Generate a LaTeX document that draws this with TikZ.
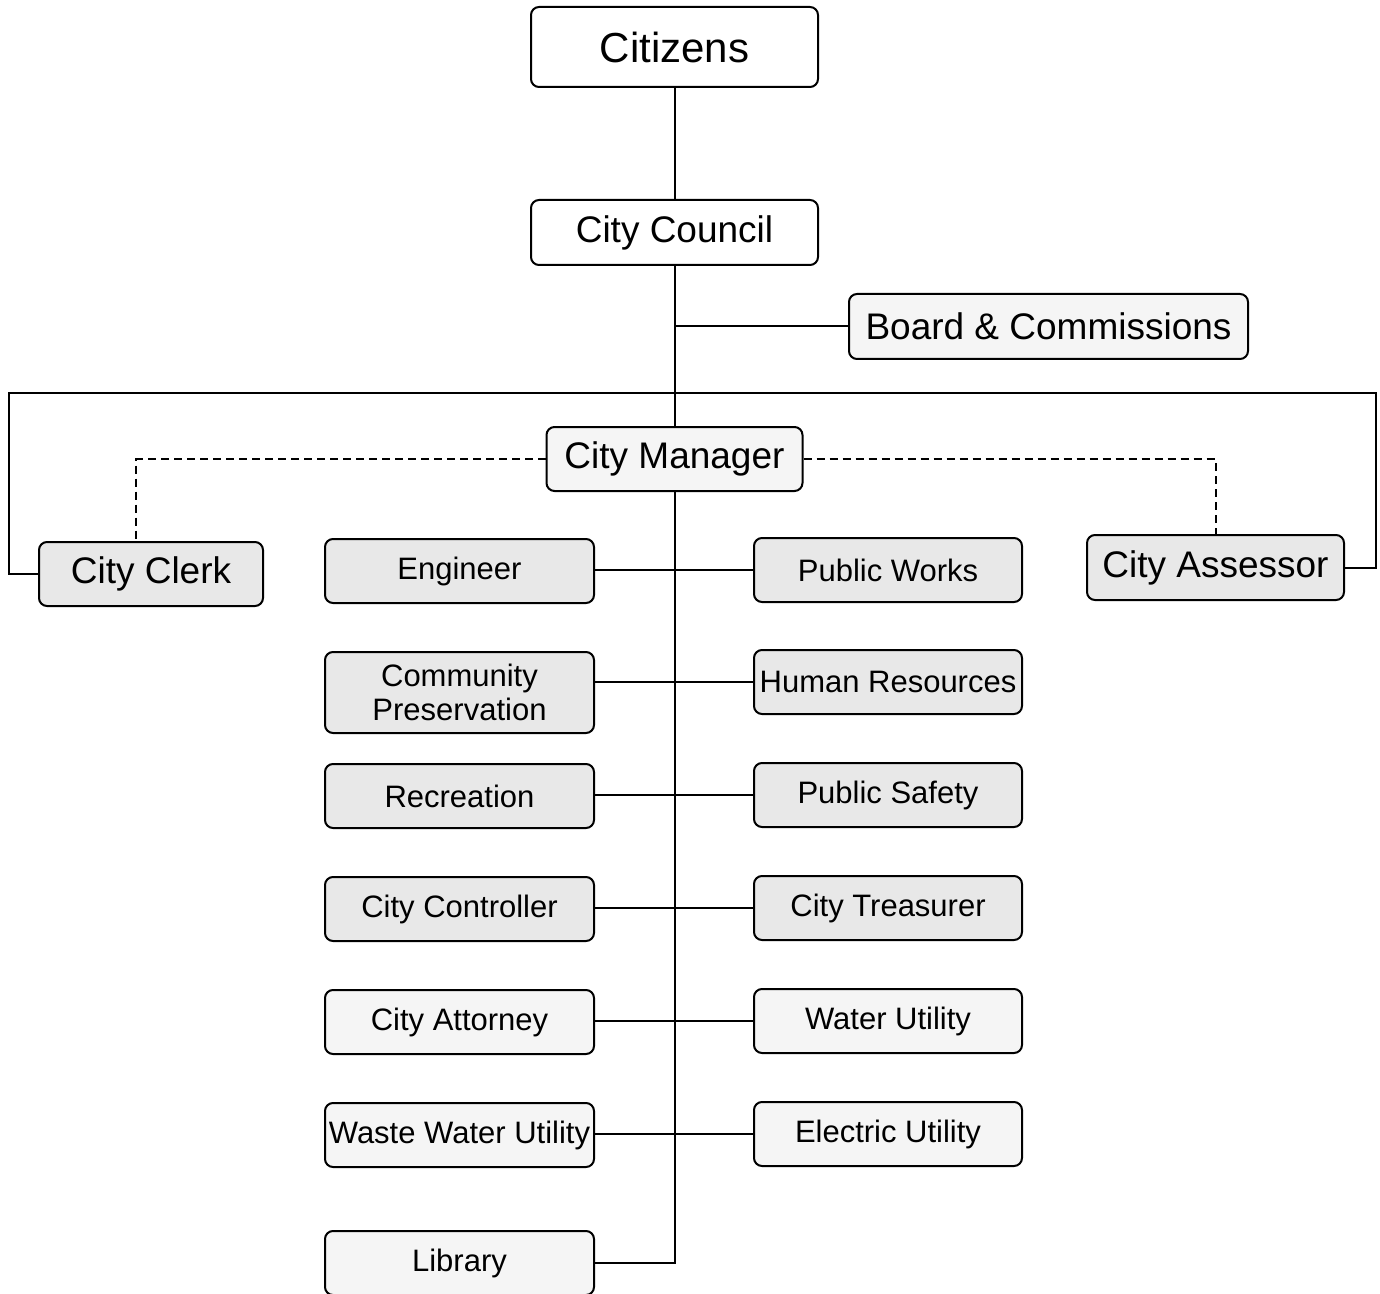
\documentclass[tikz,border=0pt]{standalone}
\usepackage{fontspec}
\setmainfont{Liberation Sans}
\begin{document}
\begin{tikzpicture}[x=0.5pt,y=-0.5pt,
  base/.style={draw=black, line width=1pt, rounded corners=4pt, inner sep=0pt, align=center, text=black},
  bigbox/.style={base, font=\fontsize{18.5}{21}\selectfont, minimum height=32.5pt},
  smallbox/.style={base, font=\fontsize{15.5}{19}\selectfont, minimum height=32pt},
  lightfill/.style={fill=black!4},
  darkfill/.style={fill=black!9},
  colL/.style={smallbox, minimum width=134.5pt},
  colR/.style={smallbox, minimum width=134pt},
  link/.style={draw=black, line width=1pt},
  dashlink/.style={draw=black, line width=1pt, dash pattern=on 4pt off 2.5pt}
]
\useasboundingbox (0,0) rectangle (1380,1294);

% top
\node[bigbox, fill=white, minimum width=143.5pt, minimum height=40pt, font=\fontsize{21}{24}\selectfont] (cit) at (674.5,47) {Citizens};
\node[bigbox, fill=white, minimum width=143.5pt] (cc) at (674.5,232.5) {City Council};
\node[bigbox, lightfill, minimum width=199.5pt] (bc) at (1048.5,326.5) {Board \& Commissions};
\node[bigbox, lightfill, minimum width=128pt, minimum height=32pt] (cm) at (674.5,459) {City Manager};
\node[bigbox, darkfill, minimum width=112pt, minimum height=32pt] (clerk) at (151,574) {City Clerk};
\node[bigbox, darkfill, minimum width=128.5pt] (ass) at (1215.5,567.5) {City Assessor};

% left column
\node[colL, darkfill] (eng) at (459.5,571) {Engineer};
\node[colL, darkfill, minimum height=40.5pt] (cp) at (459.5,692.5) {Community\\[-2pt]Preservation};
\node[colL, darkfill] (rec) at (459.5,796) {Recreation};
\node[colL, darkfill] (ctl) at (459.5,909) {City Controller};
\node[colL, lightfill] (att) at (459.5,1022) {City Attorney};
\node[colL, lightfill] (ww) at (459.5,1135) {Waste Water Utility};
\node[colL, lightfill] (lib) at (459.5,1263) {Library};

% right column
\node[colR, darkfill] (pw) at (888,570) {Public Works};
\node[colR, darkfill] (hr) at (888,682) {Human Resources};
\node[colR, darkfill] (ps) at (888,795) {Public Safety};
\node[colR, darkfill] (tr) at (888,908) {City Treasurer};
\node[colR, lightfill] (wu) at (888,1021) {Water Utility};
\node[colR, lightfill] (eu) at (888,1134) {Electric Utility};

% trunk
\draw[link] (cit.south) -- (cc.north);
\draw[link] (cc.south) -- (cm.north);
\draw[link] (bc.west) -- (bc.west -| cc.south);
\draw[link] (cm.south) |- (lib.east);

% big loop
\coordinate (lL) at (9,393);
\coordinate (lR) at (1376,393);
\draw[link] (clerk.west) -| (lL) -- (lR) |- (ass.east);

% dashed links
\draw[dashlink] (cm.west) -| ([xshift=-7.5pt]clerk.north);
\draw[dashlink] (cm.east) -| (ass.north);

% rows
\foreach \r/\l in {pw/eng, hr/cp, ps/rec, tr/ctl, wu/att, eu/ww}
  \draw[link] (\r.west) -- (\r.west -| \l.east);
\end{tikzpicture}
\end{document}
